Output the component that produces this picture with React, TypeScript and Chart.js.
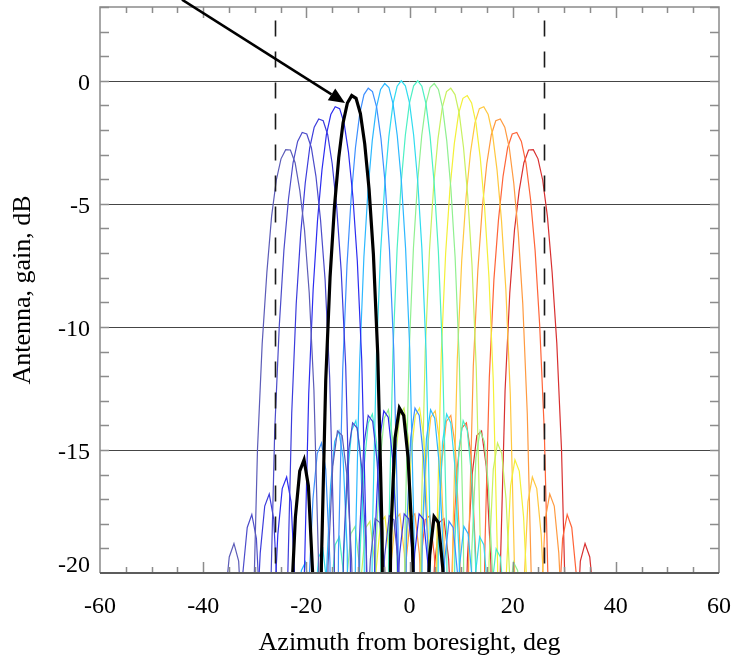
import { useEffect, useRef } from 'react';
import { Chart, registerables } from 'chart.js';

Chart.register(...registerables);

// Beam pointing directions (deg) read from the main-lobe peaks
const beamCenters = [-24, -20.8, -17.6, -14.4, -11.2, -8, -4.8, -1.6, 1.6, 4.8, 8, 11.2, 14.4, 17.6, 20.8, 24];
// Main-lobe broadening of each beam relative to the boresight template
const beamWidthScale = [1.14, 1.11, 1.09, 1.07, 1.05, 1.03, 1.01, 1.0, 1.0, 1.01, 1.03, 1.05, 1.07, 1.09, 1.11, 1.14];
const beamColors = [
  '#5c5cb8', '#4c4cca', '#3c3cdc', '#2c2cf0', '#000000', '#3d8fff', '#2cb8ff', '#30dcee',
  '#4cf0c4', '#90f090', '#c8f060', '#f4f038', '#ffc840', '#ff9a40', '#ff6438', '#d83030',
];
const highlightBeam = 4;

// Beam shape template: relative gain (dB) at offsets of k * lobeStep deg from the beam peak
const lobeStep = 0.8;
const lobeShape = [
  0, -0.2, -0.9, -2.2, -4.1, -6.8, -10.9, -18.2, -40, -18.4, -14.5, -13.3, -13.6,
  -15.3, -18.8, -26, -40, -23, -19.2, -17.6, -17.8, -19.6, -23.3, -35, -27, -22.5,
];

// Element gain envelope (dB) vs |azimuth|, sampled every 0.8 deg, read from the peak / sidelobe envelope
const elementStep = 0.8;
const elementGain = [
  0, 0, 0, -0.02, -0.04, -0.07, -0.11, -0.15, -0.19, -0.24,
  -0.3, -0.36, -0.43, -0.51, -0.6, -0.7, -0.81, -0.93, -1.05, -1.17,
  -1.29, -1.42, -1.55, -1.68, -1.82, -1.96, -2.1, -2.26, -2.43, -2.61,
  -2.8, -2.97, -3.14, -3.31, -3.49, -3.68, -3.88, -4.1, -4.32, -4.55,
  -4.78, -5.02, -5.26, -5.5, -5.75, -6.0, -6.3, -6.6, -6.9, -7.2,
  -7.5, -7.8, -8.1, -8.4, -8.7, -9.0, -9.3, -9.6, -9.9, -10.2,
];

const xTicks = [-60, -40, -20, 0, 20, 40, 60];
const yTicks = [-20, -15, -10, -5, 0];
const gridLevels = [-15, -10, -5, 0];
const markerLines = [-26, 26];
const arrowFrom = [-44.1, 3.3];
const arrowTo = [-12.5, -0.9];

const X_MIN = -60, X_MAX = 60, Y_MIN = -20, Y_MAX = 3;
const SERIF = "'Liberation Serif', 'Times New Roman', serif";

function beamPoints(b: number) {
  const pts: { x: number; y: number }[] = [];
  const n = lobeShape.length - 1;
  for (let k = -n; k <= n; k++) {
    const x = beamCenters[b] + k * lobeStep * beamWidthScale[b];
    const ei = Math.min(elementGain.length - 1, Math.round(Math.abs(x) / elementStep));
    pts.push({ x, y: lobeShape[Math.abs(k)] + elementGain[ei] });
  }
  return pts;
}

const decorPlugin = {
  id: 'decor',
  beforeDraw(chart: any) {
    // lift the bottom y label (-20) so that it sits inside the axis like in the original
    try {
      const ys = chart.scales.y;
      const items = ys.getLabelItems(chart.chartArea);
      if (items && items[0] && items[0].options && items[0].options.translation && !items[0]._nudged) {
        items[0].options.translation[1] -= 10;
        items[0]._nudged = true;
      }
    } catch (e) { /* ignore */ }
  },
  beforeDatasetsDraw(chart: any) {
    const { ctx, chartArea: a, scales } = chart;
    const y = scales.y;
    ctx.save();
    ctx.strokeStyle = '#454545';
    ctx.lineWidth = 1;
    for (const v of gridLevels) {
      const py = Math.round(y.getPixelForValue(v)) + 0.5;
      ctx.beginPath();
      ctx.moveTo(a.left, py);
      ctx.lineTo(a.right, py);
      ctx.stroke();
    }
    ctx.restore();
  },
  afterDatasetsDraw(chart: any) {
    const { ctx, chartArea: a, scales } = chart;
    const x = scales.x, y = scales.y;
    ctx.save();
    // dashed marker lines
    ctx.strokeStyle = '#1a1a1a';
    ctx.lineWidth = 1.6;
    ctx.setLineDash([16, 15]);
    for (const v of markerLines) {
      const px = Math.round(x.getPixelForValue(v)) + 0.5;
      ctx.beginPath();
      ctx.moveTo(px, a.top + 13.5);
      ctx.lineTo(px, a.bottom);
      ctx.stroke();
    }
    ctx.setLineDash([]);
    // minor/major ticks inside the frame
    ctx.strokeStyle = '#8c8c8c';
    ctx.lineWidth = 1.5;
    for (let v = X_MIN + 5; v < X_MAX; v += 5) {
      const px = Math.round(x.getPixelForValue(v)) + 0.5;
      const len = v % 20 === 0 ? 11 : 6;
      ctx.beginPath();
      ctx.moveTo(px, a.bottom);
      ctx.lineTo(px, a.bottom - len);
      ctx.moveTo(px, a.top);
      ctx.lineTo(px, a.top + len);
      ctx.stroke();
    }
    for (let v = Y_MIN + 1; v <= Y_MAX; v += 1) {
      const py = Math.round(y.getPixelForValue(v)) + 0.5;
      ctx.beginPath();
      ctx.moveTo(a.left, py);
      ctx.lineTo(a.left + 9, py);
      ctx.moveTo(a.right, py);
      ctx.lineTo(a.right - 9, py);
      ctx.stroke();
    }
    // frame
    ctx.strokeStyle = '#8a8a8a';
    ctx.lineWidth = 1.5;
    ctx.beginPath();
    ctx.moveTo(a.left, a.bottom);
    ctx.lineTo(a.left, a.top);
    ctx.lineTo(a.right, a.top);
    ctx.lineTo(a.right, a.bottom);
    ctx.stroke();
    ctx.strokeStyle = '#5c5c5c';
    ctx.lineWidth = 2;
    ctx.beginPath();
    ctx.moveTo(a.left, a.bottom);
    ctx.lineTo(a.right, a.bottom);
    ctx.stroke();
    // arrow
    const x0 = x.getPixelForValue(arrowFrom[0]), y0 = y.getPixelForValue(arrowFrom[1]);
    const x1 = x.getPixelForValue(arrowTo[0]), y1 = y.getPixelForValue(arrowTo[1]);
    const ang = Math.atan2(y1 - y0, x1 - x0);
    const headLen = 16, headHalf = 7;
    const bx = x1 - headLen * Math.cos(ang), by = y1 - headLen * Math.sin(ang);
    ctx.strokeStyle = '#000';
    ctx.fillStyle = '#000';
    ctx.lineWidth = 2.5;
    ctx.beginPath();
    ctx.moveTo(x0, y0);
    ctx.lineTo(bx, by);
    ctx.stroke();
    ctx.beginPath();
    ctx.moveTo(x1, y1);
    ctx.lineTo(bx + headHalf * Math.sin(ang), by - headHalf * Math.cos(ang));
    ctx.lineTo(bx - headHalf * Math.sin(ang), by + headHalf * Math.cos(ang));
    ctx.closePath();
    ctx.fill();
    ctx.restore();
  },
};

export default function App() {
  const ref = useRef<HTMLCanvasElement>(null);
  useEffect(() => {
    if (!ref.current) return;
    const datasets = beamCenters.map((_, b) => ({
      data: beamPoints(b),
      borderColor: beamColors[b],
      borderWidth: b === highlightBeam ? 3.2 : 1.2,
      pointRadius: 0,
      tension: 0,
      fill: false,
      order: b === highlightBeam ? 0 : 1,
    }));
    const chart = new Chart(ref.current, {
      type: 'line',
      data: { datasets },
      plugins: [decorPlugin],
      options: {
        animation: false,
        responsive: false,
        devicePixelRatio: 1,
        layout: { padding: { top: 7, right: 15, left: 0, bottom: 0 } },
        plugins: { legend: { display: false }, tooltip: { enabled: false } },
        scales: {
          x: {
            type: 'linear',
            min: X_MIN,
            max: X_MAX,
            afterBuildTicks: (s: any) => { s.ticks = xTicks.map((v) => ({ value: v })); },
            afterFit: (s: any) => { s.height = 86; s.paddingLeft = 0; s.paddingRight = 0; s.paddingTop = 0; s.paddingBottom = 0; },
            grid: { display: false, drawTicks: false },
            border: { display: false },
            ticks: { font: { family: SERIF, size: 24 }, color: '#000', padding: 19, maxRotation: 0, autoSkip: false },
            title: { display: true, text: 'Azimuth from boresight, deg', font: { family: SERIF, size: 26 }, color: '#000', padding: { top: 0, bottom: 0 } },
          },
          y: {
            type: 'linear',
            min: Y_MIN,
            max: Y_MAX,
            afterBuildTicks: (s: any) => { s.ticks = yTicks.map((v) => ({ value: v })); },
            afterFit: (s: any) => { s.width = 100; s.paddingLeft = 0; s.paddingRight = 0; s.paddingTop = 0; s.paddingBottom = 0; },
            grid: { display: false, drawTicks: false },
            border: { display: false },
            ticks: { font: { family: SERIF, size: 24 }, color: '#000', padding: 10, labelOffset: 3, autoSkip: false },
            title: { display: true, text: 'Antenna, gain, dB', font: { family: SERIF, size: 26 }, color: '#000', padding: { top: 8, bottom: 0 } },
          },
        },
      },
    } as any);
    return () => chart.destroy();
  }, []);
  return (
    <div style={{ position: 'fixed', left: 0, top: 0, width: 734, height: 659, background: '#fff' }}>
      <canvas ref={ref} width={734} height={659} style={{ width: 734, height: 659, display: 'block' }} />
    </div>
  );
}
